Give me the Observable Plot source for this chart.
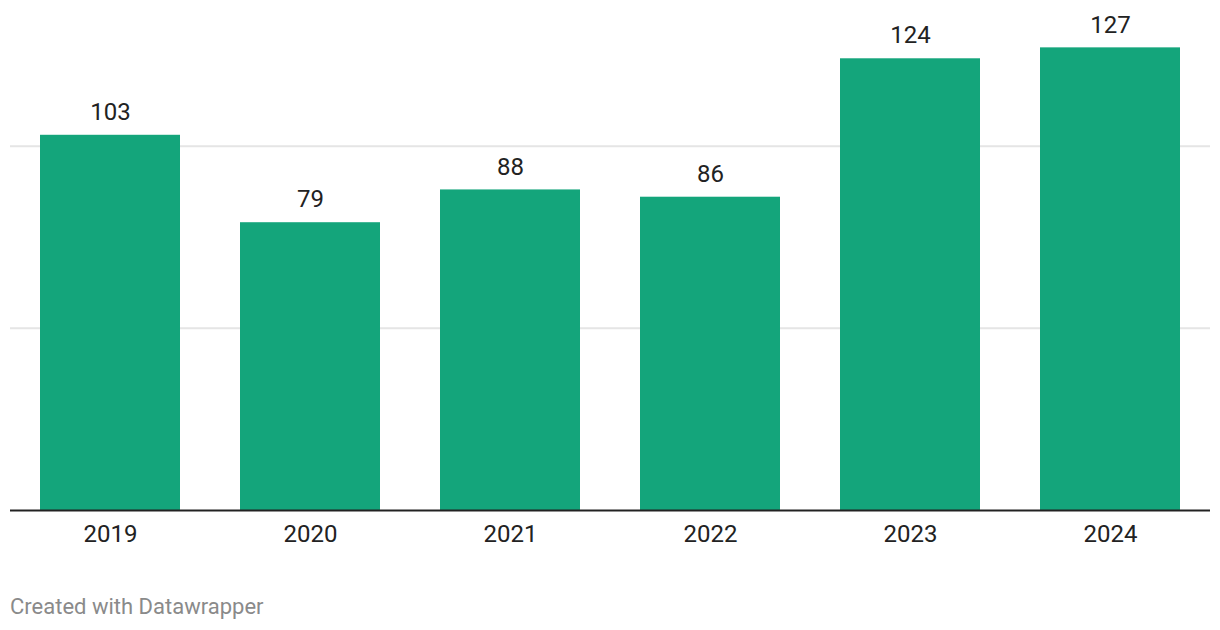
<!DOCTYPE html>
<html>
<head>
<meta charset="utf-8">
<script src="https://cdn.jsdelivr.net/npm/d3@7"></script>
<script src="https://cdn.jsdelivr.net/npm/@observablehq/plot@0.6"></script>
<style>
  html, body { margin: 0; padding: 0; background: #fff; }
  body { width: 1220px; height: 630px; position: relative; font-family: Roboto, sans-serif; }
  #chart svg { display: block; }
  #caption { position: absolute; left: 10px; top: 594px; font-size: 22px; color: #8a8a8a; font-family: Roboto, sans-serif; }
</style>
</head>
<body>
<div id="chart"></div>
<div id="caption">Created with Datawrapper</div>
<script>
const years = ["2019", "2020", "2021", "2022", "2023", "2024"];
const values = [103, 79, 88, 86, 124, 127];
const gridValues = [50, 100];

const data = years.map((y, i) => ({year: y, value: values[i]}));

const chart = Plot.plot({
  width: 1220,
  height: 560,
  marginLeft: 10,
  marginRight: 10,
  marginTop: 0,
  marginBottom: 50,
  style: {fontFamily: "Roboto, sans-serif", fontSize: "24px", color: "#222", background: "#fff"},
  x: {domain: years, paddingInner: 0.3, paddingOuter: 0.15, label: null},
  y: {domain: [0, 140], label: null, axis: null},
  marks: [
    Plot.ruleY(gridValues, {stroke: "#e5e5e5", strokeWidth: 2}),
    Plot.barY(data, {x: "year", y: "value", fill: "#14a57b"}),
    Plot.ruleY([0], {stroke: "#222", strokeWidth: 2}),
    Plot.text(data, {x: "year", y: "value", text: d => String(d.value), dy: -23, fill: "#222", fontSize: 24}),
    Plot.axisX({tickSize: 0, tickPadding: 14, fontSize: 24, fill: "#222", label: null}),
  ]
});
document.getElementById("chart").appendChild(chart);
</script>
</body>
</html>
